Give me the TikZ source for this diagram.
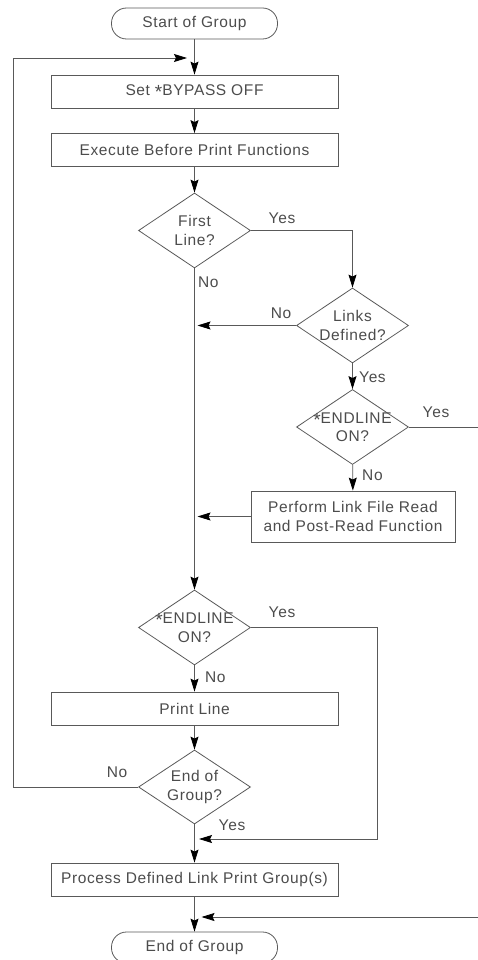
\documentclass[tikz,border=0pt]{standalone}
\usepackage{fontspec}
\setmainfont{Liberation Sans}[LetterSpace=4]
\usetikzlibrary{shapes.geometric,arrows.meta}
\newcommand{\starsym}{\raisebox{-0.22em}{\fontsize{19}{19}\selectfont *}}

\begin{document}
\begin{tikzpicture}[x=1pt,y=-1pt,
  font=\fontsize{15.5}{18.5}\selectfont,
  every node/.style={text=black!70},
  line/.style={draw=black!65,line width=0.8pt},
  flow/.style={line,-{Stealth[length=13pt,width=8pt,inset=2pt,color=black]}},
  box/.style={draw=black!65,line width=0.8pt,minimum width=287pt,minimum height=33pt,inner sep=0pt},
  term/.style={draw=black!65,line width=0.8pt,rounded corners=15pt,minimum width=166pt,minimum height=31pt,inner sep=0pt},
  test/.style={draw=black!65,line width=0.8pt,diamond,aspect=1.5,inner sep=-6pt,minimum width=112pt,minimum height=75pt,align=center},
  lbl/.style={inner sep=1pt}]
\useasboundingbox (0,0) rectangle (478,960);

\node[term] (start) at (194.5,23.5) {Start of Group};
\node[box] (bypass) at (194.5,91.5) {Set \starsym BYPASS OFF};
\node[box] (before) at (194.5,150) {Execute Before Print Functions};
\node[test] (first) at (194.5,230.5) {First\\Line?};
\node[test] (links) at (352.5,325.5) {Links\\Defined?};
\node[test] (endl1) at (352.5,427) {\starsym ENDLINE\\ON?};
\node[box,minimum width=204pt,minimum height=51pt,align=center] (perform) at (353,516.5) {Perform Link File Read\\and Post-Read Function};
\node[test] (endl2) at (194.5,627.5) {\starsym ENDLINE\\ON?};
\node[box] (print) at (194.5,708.5) {Print Line};
\node[test,minimum height=74pt] (endgrp) at (194.5,787) {End of\\Group?};
\node[box] (process) at (194.5,879.5) {Process Defined Link Print Group(s)};
\node[term] (stop) at (194.5,947.5) {End of Group};

\coordinate (mainx) at (197.5,0);
\coordinate (edge) at (478,0);
\coordinate (loop) at (13,58);
\coordinate (loopin) at (187,58);
\coordinate (skip) at (377,839);
\coordinate (skipin) at (199,839);
\coordinate (back) at (478,917);
\coordinate (backin) at (201.5,917);

\draw[flow] (start) -- (bypass);
\draw[flow] (bypass) -- (before);
\draw[flow] (before) -- (first);
\draw[flow] (first.east) -| (links.north);
\draw[flow] (first) -- (endl2);
\draw[flow] (links.west) -- (links.west -| mainx);
\draw[flow] (links) -- (endl1);
\draw[line] (endl1.east) -- (endl1.east -| edge);
\draw[flow] (endl1) -- (perform);
\draw[flow] (perform.west) -- (perform.west -| mainx);
\draw[flow] (endl2.east) -| (skip) -- (skipin);
\draw[flow] (endl2) -- (print);
\draw[flow] (print) -- (endgrp);
\draw[flow] (endgrp.west) -| (loop) -- (loopin);
\draw[flow] (endgrp) -- (process);
\draw[flow] (process) -- (stop);
\draw[flow] (back) -- (backin);

\node[lbl] (y1) at (282,218) {Yes};
\node[lbl,anchor=west] (n1) at (197,282) {No};
\node[lbl] (n2) at (281,313) {No};
\node[lbl,anchor=west] (y2) at (358,377) {Yes};
\node[lbl] (y3) at (436,412) {Yes};
\node[lbl,anchor=west] (n3) at (361,475) {No};
\node[lbl] (y4) at (282,612) {Yes};
\node[lbl,anchor=west] (n4) at (204,677) {No};
\node[lbl] (n5) at (117,772) {No};
\node[lbl] (y5) at (232,825) {Yes};
\end{tikzpicture}
\end{document}
